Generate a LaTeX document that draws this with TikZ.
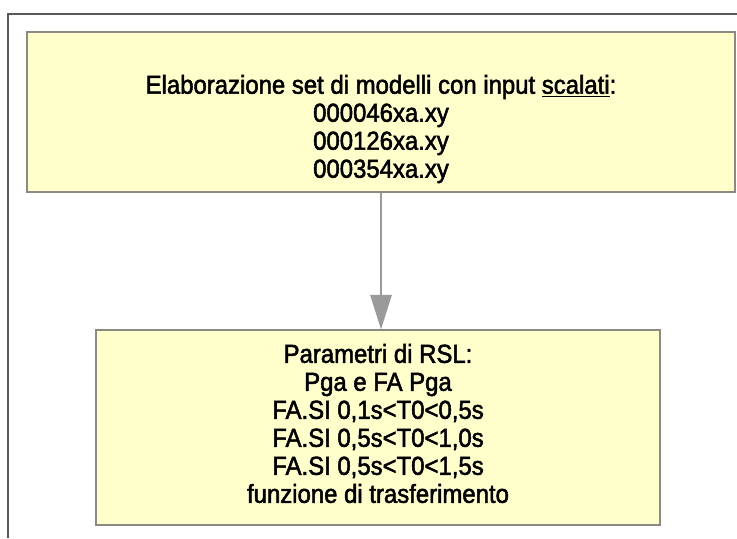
\documentclass[tikz,border=0pt]{standalone}
\usepackage{fontspec}
\setmainfont[FakeStretch=0.92, FakeBold=2]{Liberation Sans}
\usetikzlibrary{arrows.meta}

\definecolor{boxfill}{HTML}{FFFFCC}
\definecolor{boxline}{HTML}{8A8A80}
\definecolor{arrgray}{HTML}{9A9A9A}

\begin{document}
\begin{tikzpicture}[x=0.75pt, y=-0.75pt,
  box/.style={draw=boxline, fill=boxfill, line width=1.1pt, inner sep=0pt},
  txt/.style={align=center, font=\fontsize{19.5}{21}\selectfont},
  arr/.style={draw=arrgray, line width=1.5pt, -{Triangle[length=26pt, width=16pt]}}]

\useasboundingbox (0,0) rectangle (737,538);

\draw[line width=1.1pt, draw=black!65] (737,14) -- (8,14) -- (8,538);

\node[box, minimum width=531pt, minimum height=120pt] (top) at (381,112) {};
\node[box, minimum width=423pt, minimum height=146pt] (bot) at (378,427.5) {};

\node[txt] (toptxt) at (381,129) {Elaborazione set di modelli con input \underline{scalati}:\\
000046xa.xy\\
000126xa.xy\\
000354xa.xy};

\node[txt] (bottxt) at (378,423.5) {Parametri di RSL:\\
Pga e FA Pga\\
FA.SI 0,1s<T0<0,5s\\
FA.SI 0,5s<T0<1,0s\\
FA.SI 0,5s<T0<1,5s\\
funzione di trasferimento};

\draw[arr] (top.south) -- (top.south |- bot.north);

\end{tikzpicture}
\end{document}
